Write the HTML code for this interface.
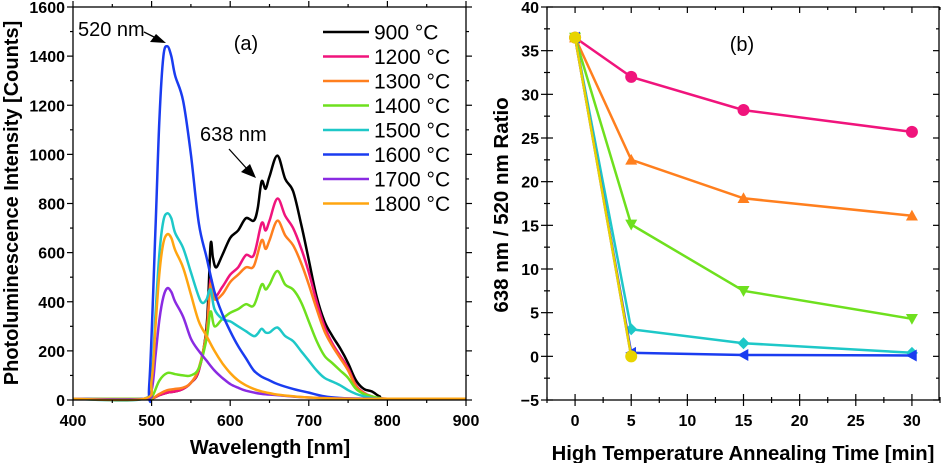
<!DOCTYPE html>
<html><head><meta charset="utf-8"><style>
body{margin:0;background:#fff}
svg{display:block;font-family:"Liberation Sans",Arial,sans-serif}
</style></head><body>
<svg id="svg" width="941" height="463" viewBox="0 0 941 463">
<g id="pa"></g>
<g id="pb"></g>
</svg>
<script>
const NS="http://www.w3.org/2000/svg";
// ---- Panel (a) data ----
const seriesNames=["900 °C","1200 °C","1300 °C","1400 °C","1500 °C","1600 °C","1700 °C","1800 °C"];
const seriesColors=["#000000","#f0147c","#ff7f1e","#6ee01e","#1ec8c8","#1a3cf0","#8a2be2","#ffa510"];
const wl900=[400,490,500,510,520,530,540,550,560,570,575,578,582,590,600,610,620,630,635,640,645,650,660,670,680,690,700,710,720,730,740,750,760,770,780,790,800,900];
const v900=[5,5,5,20,30,35,45,70,120,300,630,580,540,590,660,690,740,730,780,890,860,910,995,900,850,720,570,420,320,260,210,150,80,45,35,15,5,5];
const wl1200=[400,490,500,510,520,530,540,550,560,570,575,580,590,600,610,620,630,640,645,650,660,670,680,690,700,710,720,730,740,750,760,770,780,800,900];
const v1200=[5,5,5,20,30,35,45,70,120,280,490,420,460,510,540,590,590,720,690,730,820,750,700,620,520,400,300,230,180,130,60,30,15,5,5];
const wl1300=[400,490,500,510,520,530,540,550,560,570,575,580,590,600,610,620,630,640,645,650,660,670,680,690,700,710,720,730,740,750,760,770,780,800,900];
const v1300=[5,5,5,25,40,45,50,70,130,280,470,410,430,480,510,540,545,650,615,650,730,670,630,560,470,370,280,220,170,120,55,28,14,5,5];
const wl1400=[400,490,500,510,520,530,540,550,560,570,575,580,590,600,610,620,630,640,645,650,660,670,680,690,700,710,720,730,740,750,760,770,780,790,800,900];
const v1400=[5,5,10,80,110,105,100,100,130,250,360,300,330,355,370,390,385,470,450,470,525,470,450,400,320,240,180,150,120,90,45,25,15,8,5,5];
const wl1500=[400,490,500,505,510,515,520,525,530,540,550,560,565,570,575,580,590,600,610,620,630,635,640,645,650,660,670,680,690,700,710,720,730,740,750,760,770,780,800,900];
const v1500=[5,5,100,350,600,730,760,740,680,620,520,420,395,410,450,370,330,320,300,280,260,270,290,275,275,295,260,240,200,160,120,90,75,60,40,25,15,8,5,5];
const wl1600=[400,490,497,505,510,515,520,525,530,540,550,560,570,580,590,600,610,620,630,640,650,660,680,700,720,740,760,800,900];
const v1600=[5,5,60,700,1150,1400,1440,1400,1320,1220,1000,720,580,440,350,280,220,170,120,95,80,65,45,30,15,8,5,5,5];
const wl1700=[400,490,500,505,510,515,520,525,530,540,550,560,570,580,590,600,610,620,640,660,700,800,900];
const v1700=[5,5,40,180,330,420,455,440,400,340,250,200,160,120,90,65,50,38,25,20,10,5,5];
const wl1800=[400,490,500,505,510,515,520,525,530,540,550,560,570,580,590,600,610,620,630,640,650,660,680,700,750,800,900];
const v1800=[5,5,80,300,520,640,675,660,610,540,430,320,260,200,150,110,80,60,45,35,28,22,15,10,5,5,5];
const aWl=[wl900,wl1200,wl1300,wl1400,wl1500,wl1600,wl1700,wl1800];
const aV=[v900,v1200,v1300,v1400,v1500,v1600,v1700,v1800];
const aXTicks=[400,500,600,700,800,900];
const aYTicks=[0,200,400,600,800,1000,1200,1400,1600];
// ---- Panel (b) data ----
const bTimes=[0,5,15,30];
const b1200=[36.5,32,28.2,25.7];
const b1300=[36.5,22.5,18.1,16.1];
const b1400=[36.5,15.1,7.5,4.3];
const b1500=[36.5,3.1,1.5,0.4];
const b1600=[36.5,0.4,0.15,0.1];
const b1700=[36.5,0];
const b1800=[36.5,0];
const bSeries=[b1200,b1300,b1400,b1500,b1600,b1700,b1800];
const bColors=["#f0147c","#ff7f1e","#6ee01e","#1ec8c8","#1a3cf0","#8a2be2","#e8d400"];
const bMarkers=["circle","up","down","diamond","left","none","circle"];
const bNames=["b-1200","b-1300","b-1400","b-1500","b-1600","b-1700","b-1800"];
const bXTicks=[0,5,10,15,20,25,30];
const bYTicks=[-5,0,5,10,15,20,25,30,35,40];

function el(tag,attrs,parent,text){const e=document.createElementNS(NS,tag);for(const k in attrs)e.setAttribute(k,attrs[k]);if(text!==undefined)e.textContent=text;parent.appendChild(e);return e;}
function smooth(pts){let d="M"+pts[0][0]+","+pts[0][1];for(let i=0;i<pts.length-1;i++){const p0=pts[Math.max(0,i-1)],p1=pts[i],p2=pts[i+1],p3=pts[Math.min(pts.length-1,i+2)];const c1=[p1[0]+(p2[0]-p0[0])/6,p1[1]+(p2[1]-p0[1])/6],c2=[p2[0]-(p3[0]-p1[0])/6,p2[1]-(p3[1]-p1[1])/6];d+=" C"+c1[0].toFixed(1)+","+c1[1].toFixed(1)+" "+c2[0].toFixed(1)+","+c2[1].toFixed(1)+" "+p2[0].toFixed(1)+","+p2[1].toFixed(1);}return d;}

// ---- Panel a ----
const pa=document.getElementById("pa");
const aL=73,aR=466,aT=7,aB=400;
const ax=v=>aL+(v-400)/500*(aR-aL);
const ay=v=>aB-(v/1600)*(aB-aT);
for(let s=0;s<8;s++){
  const pts=aWl[s].map((w,i)=>[ax(w),ay(aV[s][i])]);
  const p=el("path",{d:smooth(pts),fill:"none",stroke:seriesColors[s],"stroke-width":2.5},pa);
  
  
}
el("rect",{x:aL,y:aT,width:aR-aL,height:aB-aT,fill:"none",stroke:"#000","stroke-width":1.3,},pa);
for(let v=0;v<=1600;v+=100){const y=ay(v),len=v%200===0?6:3;el("line",{x1:aL-len,x2:aL,y1:y,y2:y,stroke:"#000","stroke-width":1.2},pa);el("line",{x1:aR,x2:aR+len,y1:y,y2:y,stroke:"#000","stroke-width":1.2},pa);}
for(let v=400;v<=900;v+=50){const x=ax(v),len=v%100===0?6:3;el("line",{x1:x,x2:x,y1:aB,y2:aB+len,stroke:"#000","stroke-width":1.2},pa);el("line",{x1:x,x2:x,y1:aT,y2:aT-len,stroke:"#000","stroke-width":1.2},pa);}
aYTicks.forEach(v=>{const t=el("text",{x:aL-8,y:ay(v)+6,"text-anchor":"end","font-size":16,"font-weight":"bold"},pa,v);});
aXTicks.forEach(v=>{const t=el("text",{x:ax(v),y:426,"text-anchor":"middle","font-size":16,"font-weight":"bold"},pa,v);});
el("text",{x:270,y:454,"text-anchor":"middle","font-size":20,"font-weight":"bold",},pa,"Wavelength [nm]");
el("text",{x:0,y:0,transform:"translate(18,203) rotate(-90)","text-anchor":"middle","font-size":20,"font-weight":"bold",},pa,"Photoluminescence Intensity [Counts]");
el("text",{x:246,y:50,"text-anchor":"middle","font-size":20,},pa,"(a)");
el("text",{x:78,y:36,"font-size":20,},pa,"520 nm");
el("line",{x1:144,y1:32,x2:158,y2:39,stroke:"#000","stroke-width":1.3},pa);
el("polygon",{points:"166,43 150,42 156,34",fill:"#000"},pa);
el("text",{x:200,y:141,"font-size":20,},pa,"638 nm");
el("line",{x1:229,y1:149,x2:248,y2:170,stroke:"#000","stroke-width":1.3},pa);
el("polygon",{points:"256,178 241,172 250,164",fill:"#000"},pa);
for(let s=0;s<8;s++){const y=32+s*24.5;const g=el("g",{},pa);
el("line",{x1:323,x2:369,y1:y,y2:y,stroke:seriesColors[s],"stroke-width":2.5},g);
el("text",{x:374,y:y+7.5,"font-size":21},g,seriesNames[s]);}

// ---- Panel b ----
const pb=document.getElementById("pb");
const bL=547,bR=940,bT=7,bB=400;
const bx=v=>bL+(v+2.5)/35*(bR-bL);
const by=v=>bB-(v+5)/45*(bB-bT);
el("rect",{x:bL,y:bT,width:bR-bL-1,height:bB-bT,fill:"none",stroke:"#000","stroke-width":1.3,},pb);
for(let v=-5;v<=40;v+=2.5){const y=by(v),len=v%5===0?6:3;el("line",{x1:bL-len,x2:bL+len,y1:y,y2:y,stroke:"#000","stroke-width":1.2},pb);el("line",{x1:bR-1-len,x2:bR-1,y1:y,y2:y,stroke:"#000","stroke-width":1.2},pb);}
for(let v=-2.5;v<=32.5;v+=2.5){const x=bx(v),len=Math.abs(v%5)<1e-9?6:3;el("line",{x1:x,x2:x,y1:bB-len,y2:bB+len,stroke:"#000","stroke-width":1.2},pb);el("line",{x1:x,x2:x,y1:bT,y2:bT+len,stroke:"#000","stroke-width":1.2},pb);}
bYTicks.forEach(v=>{const t=el("text",{x:bL-8,y:by(v)+6,"text-anchor":"end","font-size":16,"font-weight":"bold"},pb,v<0?"−"+(-v):v);});
bXTicks.forEach(v=>{const t=el("text",{x:bx(v),y:426,"text-anchor":"middle","font-size":16,"font-weight":"bold"},pb,v);});
el("text",{x:743,y:460,"text-anchor":"middle","font-size":20.3,"font-weight":"bold",},pb,"High Temperature Annealing Time [min]");
el("text",{x:0,y:0,transform:"translate(508,205) rotate(-90)","text-anchor":"middle","font-size":20.5,"font-weight":"bold",},pb,"638 nm / 520 nm Ratio");
el("text",{x:742,y:51,"text-anchor":"middle","font-size":20,},pb,"(b)");
function marker(type,x,y,c,parent){const r=6;
 if(type==="circle")return el("circle",{cx:x,cy:y,r:r,fill:c},parent);
 if(type==="up")return el("polygon",{points:`${x},${y-r} ${x-r},${y+r*0.8} ${x+r},${y+r*0.8}`,fill:c},parent);
 if(type==="down")return el("polygon",{points:`${x},${y+r} ${x-r},${y-r*0.8} ${x+r},${y-r*0.8}`,fill:c},parent);
 if(type==="diamond")return el("polygon",{points:`${x},${y-r} ${x+r},${y} ${x},${y+r} ${x-r},${y}`,fill:c},parent);
 if(type==="left")return el("polygon",{points:`${x-r},${y} ${x+r*0.8},${y-r} ${x+r*0.8},${y+r}`,fill:c},parent);
 return null;}
for(let s=0;s<bSeries.length;s++){
 const g=el("g",{},pb);
 
 
 const pts=bSeries[s].map((v,i)=>bx(bTimes[i]).toFixed(1)+","+by(v).toFixed(1)).join(" ");
 el("polyline",{points:pts,fill:"none",stroke:bColors[s],"stroke-width":2.5},g);
 bSeries[s].forEach((v,i)=>{const m=marker(bMarkers[s],bx(bTimes[i]),by(v),bColors[s],g);if(m){}});
}
</script>
</body></html>
